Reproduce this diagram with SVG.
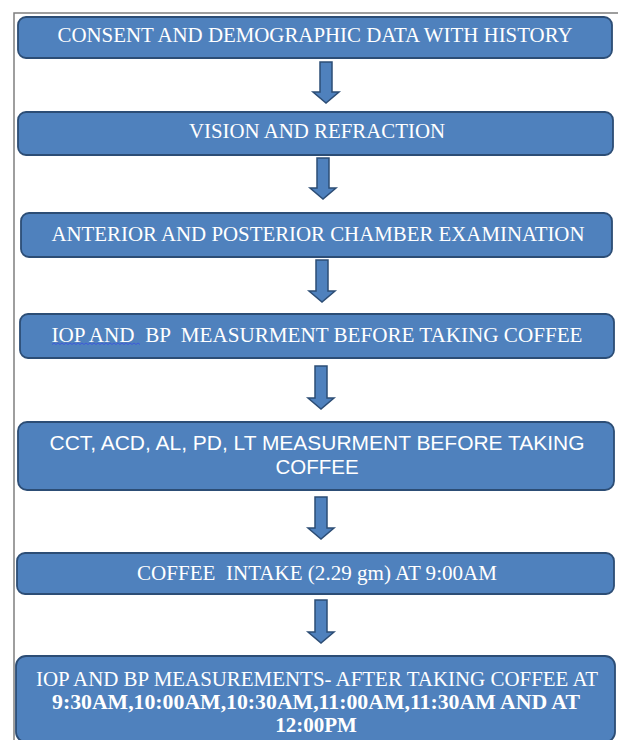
<svg xmlns="http://www.w3.org/2000/svg" width="618" height="740" viewBox="0 0 618 740">
<style>
.box{fill:#4F81BD;stroke:#2C4D75;stroke-width:1.8}
.arr{fill:#4F81BD;stroke:#2C4D75;stroke-width:1.5;stroke-linejoin:miter}
.t{fill:#FFFFFF;font-family:"Liberation Serif","Times New Roman",serif;font-size:20px;text-anchor:middle}
.a{fill:#FFFFFF;font-family:"Liberation Sans",Arial,sans-serif;font-size:20.5px;text-anchor:middle}
.b{font-weight:bold}
</style>
<rect x="0" y="0" width="618" height="740" fill="#FFFFFF"/>
<path d="M14 740 V13 H618" fill="none" stroke="#7F7F7F" stroke-width="1.5"/>
<g id="connectors">
<path class="arr" d="M320 62 H332 V92 H339 L326 103 L313 92 H320 Z"/>
<path class="arr" d="M317 158 H329 V188 H336 L323 199 L310 188 H317 Z"/>
<path class="arr" d="M316 260 H328 V291 H335 L322 302 L309 291 H316 Z"/>
<path class="arr" d="M315 366 H327 V398 H334 L321 409 L308 398 H315 Z"/>
<path class="arr" d="M315 497 H327 V528 H334 L321 539 L308 528 H315 Z"/>
<path class="arr" d="M315 600 H327 V632 H334 L321 643 L308 632 H315 Z"/>
</g>
<g id="n1">
<rect class="box" x="18" y="17" width="594" height="41" rx="8"/>
<text class="t" x="315" y="42" textLength="515" lengthAdjust="spacingAndGlyphs">CONSENT AND DEMOGRAPHIC DATA WITH HISTORY</text>
</g>
<g id="n2">
<rect class="box" x="18" y="112" width="595" height="43" rx="8"/>
<text class="t" x="317" y="138" textLength="256" lengthAdjust="spacingAndGlyphs">VISION AND REFRACTION</text>
</g>
<g id="n3">
<rect class="box" x="21" y="213" width="591" height="44" rx="8"/>
<text class="t" x="318" y="241" textLength="533" lengthAdjust="spacingAndGlyphs">ANTERIOR AND POSTERIOR CHAMBER EXAMINATION</text>
</g>
<g id="n4">
<rect class="box" x="20" y="314" width="594" height="44" rx="8"/>
<text class="t" x="317" y="342" textLength="531" lengthAdjust="spacingAndGlyphs" xml:space="preserve">IOP AND  BP  MEASURMENT BEFORE TAKING COFFEE</text>
<path d="M52 344.5 l2 -1.5 l2 1.5 l2 -1.5 l2 1.5 l2 -1.5 l2 1.5 l2 -1.5 l2 1.5 l2 -1.5 l2 1.5 l2 -1.5 l2 1.5 l2 -1.5 l2 1.5 l2 -1.5 l2 1.5 l2 -1.5 l2 1.5 l2 -1.5 l2 1.5 l2 -1.5 l2 1.5 l2 -1.5 l2 1.5 l2 -1.5 l2 1.5 l2 -1.5 l2 1.5 l2 -1.5 l2 1.5 l2 -1.5 l2 1.5 l2 -1.5 l2 1.5 l2 -1.5 l2 1.5 l2 -1.5 l2 1.5 l2 -1.5 l2 1.5 l2 -1.5 l2 1.5 l2 -1.5 l2 1.5" fill="none" stroke="#3A4FE0" stroke-width="0.8"/>
</g>
<g id="n5">
<rect class="box" x="18" y="422" width="596" height="68" rx="9"/>
<text class="a" x="317" y="450" textLength="535" lengthAdjust="spacingAndGlyphs">CCT, ACD, AL, PD, LT MEASURMENT BEFORE TAKING</text>
<text class="a" x="317" y="474">COFFEE</text>
</g>
<g id="n6">
<rect class="box" x="17" y="553" width="597" height="41" rx="8"/>
<text class="t" x="317" y="580" textLength="360" lengthAdjust="spacingAndGlyphs" xml:space="preserve">COFFEE  INTAKE (2.29 gm) AT 9:00AM</text>
</g>
<g id="n7">
<rect class="box" x="16" y="656" width="599" height="86" rx="10"/>
<text class="t" x="317" y="686" textLength="562" lengthAdjust="spacingAndGlyphs">IOP AND BP MEASUREMENTS- AFTER TAKING COFFEE AT</text>
<text class="t b" x="316" y="709" textLength="528" lengthAdjust="spacingAndGlyphs">9:30AM,10:00AM,10:30AM,11:00AM,11:30AM AND AT</text>
<text class="t b" x="316" y="732" style="font-size:21px">12:00PM</text>
</g>
</svg>
